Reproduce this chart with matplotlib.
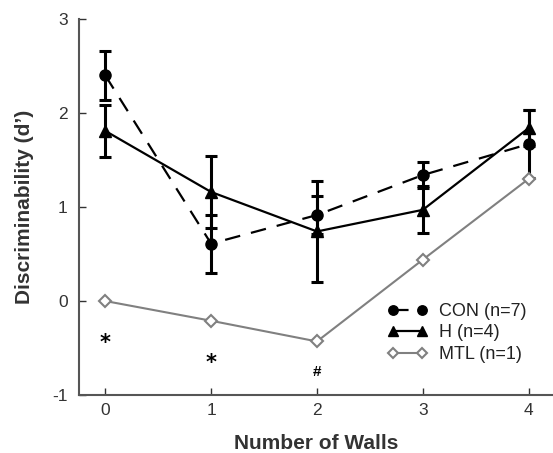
import matplotlib
matplotlib.use("Agg")
import matplotlib.pyplot as plt

plt.rcParams['font.family'] = ['Liberation Sans', 'DejaVu Sans']
plt.rcParams['axes.unicode_minus'] = False

walls = [0, 1, 2, 3, 4]
con = [2.40, 0.61, 0.915, 1.34, 1.67]
con_err = [0.26, 0.31, 0.20, 0.14, 0.36]
h = [1.81, 1.16, 0.74, 0.97, 1.84]
h_err = [0.28, 0.38, 0.54, 0.25, 0.19]
mtl = [0.0, -0.21, -0.43, 0.44, 1.30]
sig_x = [0, 1, 2]
sig_y = [-0.39, -0.60, -0.75]
sig_marks = ['*', '*', '#']
labels = ['CON (n=7)', 'H (n=4)', 'MTL (n=1)']

fig = plt.figure(figsize=(5.53, 4.53), dpi=100)
ax = fig.add_axes([0.1425, 0.128, 0.8575, 0.830])

ax.errorbar(walls, con, yerr=con_err, fmt='none', ecolor='black', elinewidth=2.2,
            capsize=4, capthick=2.2, zorder=2)
ax.errorbar(walls, h, yerr=h_err, fmt='none', ecolor='black', elinewidth=2.2,
            capsize=4, capthick=2.2, zorder=2)
l1, = ax.plot(walls, con, color='black', linestyle=(0, (7, 5)), linewidth=1.6,
              marker='o', markersize=8, zorder=3)
l2, = ax.plot(walls, h, color='black', linestyle='-', linewidth=1.6,
              marker='^', markersize=8.5, zorder=3)
l3, = ax.plot(walls, mtl, color='#808080', linestyle='-', linewidth=1.5,
              marker='D', markersize=6.5, markerfacecolor='white',
              markeredgecolor='#808080', markeredgewidth=1.5, zorder=4)

for x, y, s in zip(sig_x, sig_y, sig_marks):
    if s == '*':
        ax.annotate(s, (x, y), xytext=(0, -4), textcoords='offset points',
                    ha='center', va='center', fontsize=15, fontweight='bold',
                    color='black', family=['DejaVu Sans'])
    else:
        ax.annotate(s, (x, y), xytext=(0, 0), textcoords='offset points',
                    ha='center', va='center', fontsize=11, fontweight='bold',
                    color='black')

ax.set_xlim(-0.25, 4.23)
ax.set_ylim(-1, 3)
ax.set_xticks(walls)
ax.set_yticks([-1, 0, 1, 2, 3])
ax.tick_params(direction='in', length=5, width=1, labelsize=12.5, colors='#333333')
ax.tick_params(axis='x', pad=6)
ax.tick_params(axis='y', pad=8)
for s in ['top', 'right']:
    ax.spines[s].set_visible(False)
for s in ['left', 'bottom']:
    ax.spines[s].set_color('#555555')
    ax.spines[s].set_linewidth(1.5)

ax.set_xlabel('Number of Walls', fontsize=15, fontweight='bold', color='#333333',
              labelpad=11)
ax.set_ylabel("Discriminability (d\u2019)", fontsize=15, fontweight='bold',
              color='#333333', labelpad=13)

leg = ax.legend([l1, l2, l3], labels, loc='upper left', bbox_to_anchor=(0.652, 0.245),
                frameon=False, fontsize=13, handlelength=2.2, handletextpad=0.6,
                labelspacing=0.25, borderaxespad=0, borderpad=0, numpoints=2,
                markerscale=0.85)
for t in leg.get_texts():
    t.set_color('#222222')

fig.savefig('out.png', dpi=100)
